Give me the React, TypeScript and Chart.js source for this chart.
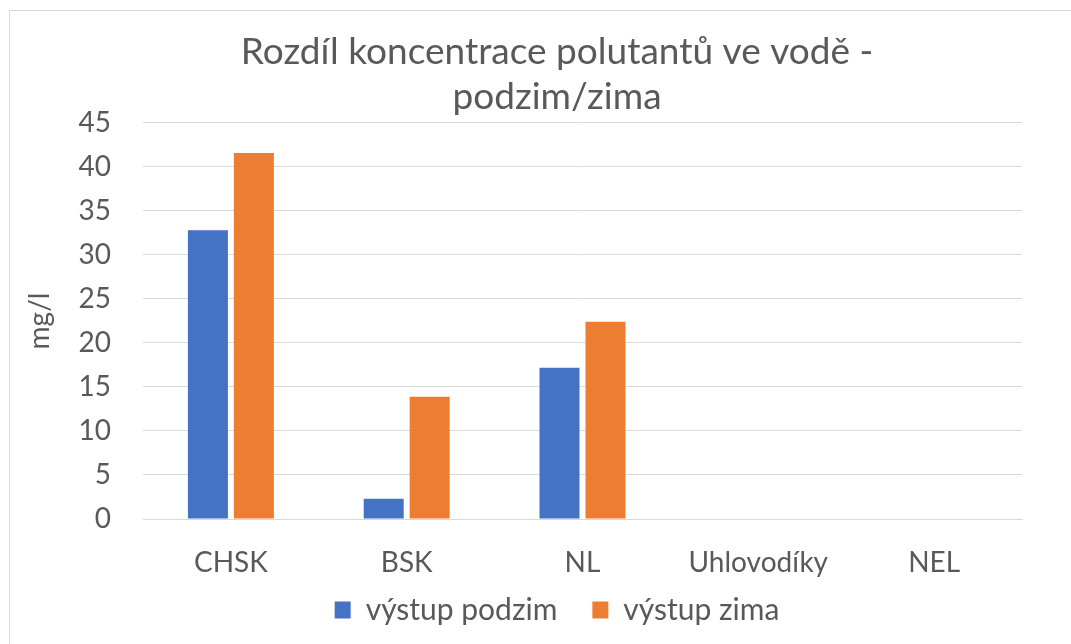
import React, { useEffect, useRef } from "react";
import { Chart, registerables } from "chart.js";

Chart.register(...registerables);

const categories = ["CHSK", "BSK", "NL", "Uhlovodíky", "NEL"];
const podzimValues = [32.8, 2.3, 17.2, 0, 0];
const zimaValues = [41.6, 13.9, 22.4, 0, 0];
const seriesNames = ["výstup podzim", "výstup zima"];
const titleLines = ["Rozdíl koncentrace polutantů ve vodě -", "podzim/zima"];
const yAxisTitle = "mg/l";

const FONT = "Lato, 'Noto Sans', sans-serif";
const TEXT = "#595959";
const GRID = "#d9d9d9";

const PAD_RIGHT = -43;
const PLOT_LEFT = 143;
const PLOT_RIGHT = 1022;
const PLOT_BOTTOM = 519;
const LEGEND_TOP = 581;

export default function App() {
  const ref = useRef<HTMLCanvasElement | null>(null);

  useEffect(() => {
    if (!ref.current) return;
    const chart = new Chart(ref.current, {
      type: "bar",
      data: {
        labels: categories,
        datasets: [
          {
            label: seriesNames[0],
            data: podzimValues,
            backgroundColor: "#4472C4",
            categoryPercentage: 0.523,
            barPercentage: 0.87,
            yAxisID: "y",
          },
          {
            label: seriesNames[1],
            data: zimaValues,
            backgroundColor: "#ED7D31",
            categoryPercentage: 0.523,
            barPercentage: 0.87,
            yAxisID: "y",
          },
        ],
      },
      options: {
        animation: false,
        responsive: false,
        maintainAspectRatio: false,
        layout: { padding: { left: 0, right: PAD_RIGHT, top: 0, bottom: 9 } },
        plugins: {
          title: {
            display: true,
            text: titleLines,
            color: TEXT,
            font: { family: FONT, size: 37, weight: "normal", lineHeight: 1.22 },
            padding: { top: 29, bottom: 3.7 },
          },
          legend: {
            position: "bottom",
            title: {
              display: true,
              text: "",
              font: { size: 1, lineHeight: 1 },
              padding: { top: -11, bottom: -11 },
            },
            labels: {
              color: TEXT,
              font: { family: FONT, size: 30 },
              boxWidth: 16,
              boxHeight: 17,
              padding: 35,
            },
          },
          tooltip: { enabled: false },
        },
        scales: {
          x: {
            grid: { display: false, drawTicks: false },
            border: { display: true, color: GRID },
            ticks: { color: TEXT, font: { family: FONT, size: 28 }, padding: 27, maxRotation: 0 },
            afterFit: (scale: any) => {
              scale.height = LEGEND_TOP - PLOT_BOTTOM;
            },
          },
          y: {
            position: "left",
            min: 0,
            max: 45,
            ticks: {
              stepSize: 5,
              color: TEXT,
              font: { family: FONT, size: 28 },
              padding: 32,
            },
            grid: { color: GRID, drawTicks: false, lineWidth: 1 },
            border: { display: false },
            title: {
              display: true,
              text: yAxisTitle,
              color: TEXT,
              font: { family: FONT, size: 28, lineHeight: 1.2 },
              padding: { top: 40 - 16.8, bottom: 0 },
            },
            afterFit: (scale: any) => {
              scale.width = PLOT_LEFT;
            },
          },
          yRight: {
            position: "right",
            display: true,
            grid: { display: false, drawOnChartArea: false, drawTicks: false },
            border: { display: false },
            ticks: { display: false },
            afterFit: (scale: any) => {
              scale.width = 1071 - PAD_RIGHT - PLOT_RIGHT;
            },
          },
        },
      },
    });
    return () => chart.destroy();
  }, []);

  return (
    <div style={{ position: "fixed", left: 0, top: 0, width: 1071, height: 644, background: "#fff" }}>
      <div
        style={{
          position: "absolute",
          left: 9,
          top: 10,
          width: 1080,
          height: 660,
          borderTop: "1px solid #d9d9d9",
          borderLeft: "1px solid #d9d9d9",
        }}
      />
      <canvas ref={ref} width={1071} height={644} style={{ position: "absolute", left: 0, top: 0 }} />
    </div>
  );
}
